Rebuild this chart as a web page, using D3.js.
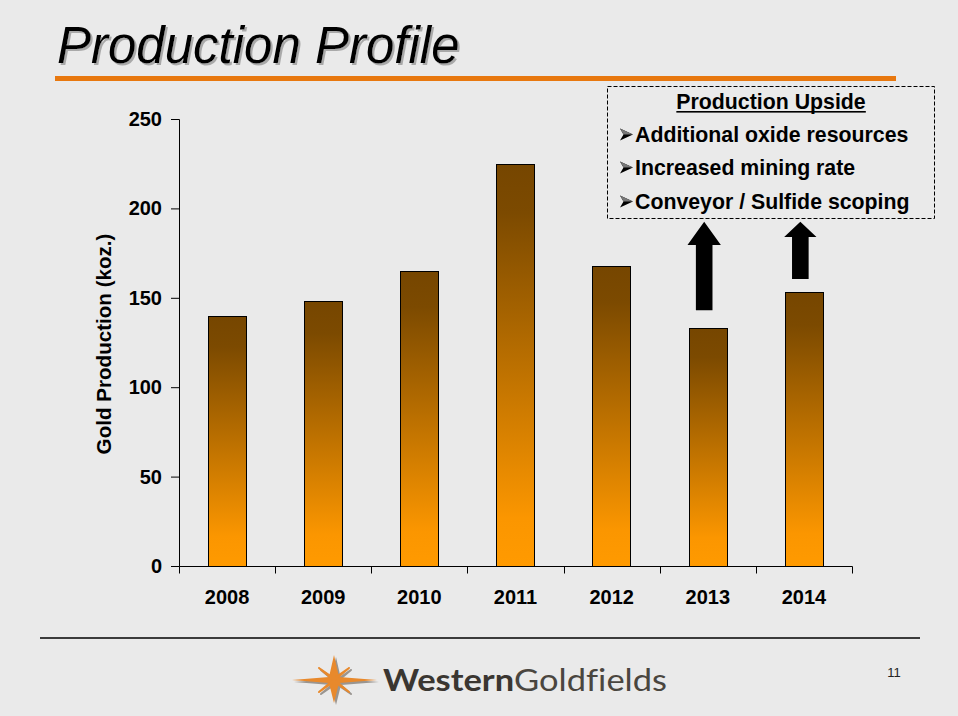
<!DOCTYPE html>
<html>
<head>
<meta charset="utf-8">
<script src="https://cdn.jsdelivr.net/npm/d3@7"></script>
<style>
  html, body { margin: 0; padding: 0; background: #EAEAEA; }
  svg { display: block; font-family: "Liberation Sans", Arial, sans-serif; }
</style>
</head>
<body>
<svg id="chart" width="958" height="716"></svg>
<script>
// ---- Data ----
const years = ["2008", "2009", "2010", "2011", "2012", "2013", "2014"];
const production = [140, 148, 165, 225, 168, 133, 153];
const yTicks = [0, 50, 100, 150, 200, 250];
const titleText = "Production Profile";
const yAxisTitle = "Gold Production (koz.)";
const upsideHeader = "Production Upside";
const upsideItems = ["Additional oxide resources", "Increased mining rate", "Conveyor / Sulfide scoping"];
// upside arrows: year, tail value, head-base value, tip value
const arrowYears = ["2013", "2014"];
const arrowFrom = [143, 160.5];
const arrowHeadBase = [179.5, 184];
const arrowTo = [192.5, 192.5];
const pageNumber = "11";

// ---- Setup ----
const svg = d3.select("#chart");
const W = 958, H = 716;
svg.append("rect").attr("width", W).attr("height", H).attr("fill", "#EAEAEA");

const defs = svg.append("defs");
const shadow = defs.append("filter").attr("id", "titleShadow")
  .attr("x", "-5%").attr("y", "-10%").attr("width", "115%").attr("height", "130%");
shadow.append("feDropShadow").attr("dx", 2).attr("dy", 2).attr("stdDeviation", 0.6)
  .attr("flood-color", "#999").attr("flood-opacity", 0.8);

// Title
svg.append("text").attr("x", 57).attr("y", 63)
  .attr("font-size", 51).attr("font-style", "italic").attr("fill", "#000")
  .attr("filter", "url(#titleShadow)")
  .text(titleText);
svg.append("rect").attr("x", 55).attr("y", 76).attr("width", 841).attr("height", 5)
  .attr("fill", "#E8780F");

// ---- Scales ----
const x = d3.scaleBand().domain(years).range([179, 852]).padding(0);
const y = d3.scaleLinear().domain([0, 250]).range([566, 119]);

// gradient (per bar)
const grad = defs.append("linearGradient").attr("id", "barGrad")
  .attr("x1", 0).attr("y1", 0).attr("x2", 0).attr("y2", 1);
grad.append("stop").attr("offset", "0%").attr("stop-color", "#764600");
grad.append("stop").attr("offset", "12%").attr("stop-color", "#7c4a00");
grad.append("stop").attr("offset", "88%").attr("stop-color", "#fb9600");
grad.append("stop").attr("offset", "100%").attr("stop-color", "#ff9a00");

// ---- Axes ----
const yAxis = d3.axisLeft(y).tickValues(yTicks).tickSize(8).tickPadding(9);
const gy = svg.append("g").attr("transform", "translate(179,0)").call(yAxis);
gy.select(".domain").attr("stroke", "#000");
gy.selectAll(".tick line").attr("stroke", "#000");
gy.selectAll(".tick text").attr("font-size", 20).attr("font-weight", "bold")
  .attr("fill", "#000").attr("font-family", "Liberation Sans, Arial, sans-serif");

const xAxis = d3.axisBottom(x).tickSize(7).tickPadding(17).tickSizeOuter(0);
const gx = svg.append("g").attr("transform", "translate(0,566)").call(xAxis);
gx.selectAll(".tick line").remove();
gx.select(".domain").attr("stroke", "#000");
gx.selectAll(".tick text").attr("font-size", 20).attr("font-weight", "bold")
  .attr("fill", "#000").attr("font-family", "Liberation Sans, Arial, sans-serif");
// category boundary ticks
const bounds = years.map(d => x(d)).concat([x.range()[1]]);
gx.selectAll("line.bound").data(bounds).join("line").attr("class", "bound")
  .attr("x1", d => Math.round(d) + 0.5).attr("x2", d => Math.round(d) + 0.5)
  .attr("y1", 0.5).attr("y2", 7.5).attr("stroke", "#000");

// y-axis title
svg.append("text")
  .attr("transform", "translate(111,344) rotate(-90)")
  .attr("text-anchor", "middle")
  .attr("font-size", 20.6).attr("font-weight", "bold").attr("fill", "#000")
  .text(yAxisTitle);

// ---- Bars ----
const barW = x.bandwidth() * 0.4;
svg.append("g").selectAll("rect").data(years).join("rect")
  .attr("x", d => Math.round(x(d) + (x.bandwidth() - barW) / 2) + 0.5)
  .attr("y", (d, i) => Math.round(y(production[i])) + 0.5)
  .attr("width", Math.round(barW))
  .attr("height", (d, i) => Math.round(y(0)) - Math.round(y(production[i])))
  .attr("fill", "url(#barGrad)")
  .attr("stroke", "#000").attr("stroke-width", 1);

// ---- Upside arrows ----
const shaftW = 16.6;
const headW = [33.4, 32.3];
arrowYears.forEach((yr, i) => {
  const cx = x(yr) + x.bandwidth() / 2 - 3.6;
  const yb = y(arrowFrom[i]), yh = y(arrowHeadBase[i]), yt = y(arrowTo[i]);
  const hw = headW[i] / 2, sw = shaftW / 2;
  const p = `M${cx - sw},${yb} L${cx - sw},${yh} L${cx - hw},${yh} L${cx},${yt} L${cx + hw},${yh} L${cx + sw},${yh} L${cx + sw},${yb} Z`;
  svg.append("path").attr("d", p).attr("fill", "#000");
});

// ---- Upside box ----
svg.append("rect").attr("x", 607.5).attr("y", 86.5).attr("width", 327).attr("height", 132)
  .attr("fill", "none").attr("stroke", "#000").attr("stroke-width", 1)
  .attr("stroke-dasharray", "4,2");
const hdr = svg.append("text").attr("x", 771).attr("y", 109)
  .attr("text-anchor", "middle").attr("font-size", 21.3).attr("font-weight", "bold")
  .attr("fill", "#000").text(upsideHeader);
const hb = hdr.node().getBBox();
svg.append("rect").attr("x", hb.x).attr("y", 111).attr("width", hb.width).attr("height", 1.6).attr("fill", "#000");

const itemBase = [142, 175, 209];
upsideItems.forEach((t, i) => {
  const by = itemBase[i];
  const cy = by - 7.5;
  svg.append("path")
    .attr("d", `M620,${cy - 6} L633,${cy} L620,${cy + 6} L623.5,${cy} Z`)
    .attr("fill", "#000");
  svg.append("path")
    .attr("d", `M620,${cy - 6} L633,${cy} L623.5,${cy} Z`)
    .attr("fill", "#777");
  svg.append("text").attr("x", 635).attr("y", by)
    .attr("font-size", 21.3).attr("font-weight", "bold").attr("fill", "#000")
    .text(t);
});

// ---- Footer ----
svg.append("line").attr("x1", 40).attr("x2", 920).attr("y1", 638).attr("y2", 638)
  .attr("stroke", "#000").attr("stroke-width", 1.3);
svg.append("text").attr("x", 894).attr("y", 677).attr("text-anchor", "middle")
  .attr("font-size", 13).attr("fill", "#222").text(pageNumber);

// logo star
const sx = 334, sy = 680;
function star(dx, dy, fill) {
  const g = svg.append("g").attr("transform", `translate(${sx + dx},${sy + dy})`);
  g.append("path").attr("d",
    "M-42,0 L-5,-3 L0,-25 L5,-3 L43,0 L5,3 L0,23 L-5,3 Z").attr("fill", fill);
  g.append("path").attr("d",
    "M-15,-12 L-2,-3 L0,0 L-3,-2 Z M15,-12 L2,-3 L0,0 L3,-2 Z M-15,12 L-2,3 L0,0 L-3,2 Z M15,12 L2,3 L0,0 L3,2 Z")
    .attr("fill", fill).attr("stroke", fill).attr("stroke-width", 2).attr("stroke-linejoin", "round");
}
star(2, 2, "#9a9590");
star(0, 0, "#E8892C");

const logo = svg.append("text").attr("x", 383).attr("y", 691)
  .attr("font-family", "Lato, 'Open Sans', sans-serif").attr("font-size", 30)
  .style("font-variant-ligatures", "none")
  .attr("textLength", 284).attr("lengthAdjust", "spacingAndGlyphs");
logo.append("tspan").attr("font-weight", "bold").attr("fill", "#3a3631").text("Western");
logo.append("tspan").attr("fill", "#4a463f").text("Goldfields");
</script>
</body>
</html>
